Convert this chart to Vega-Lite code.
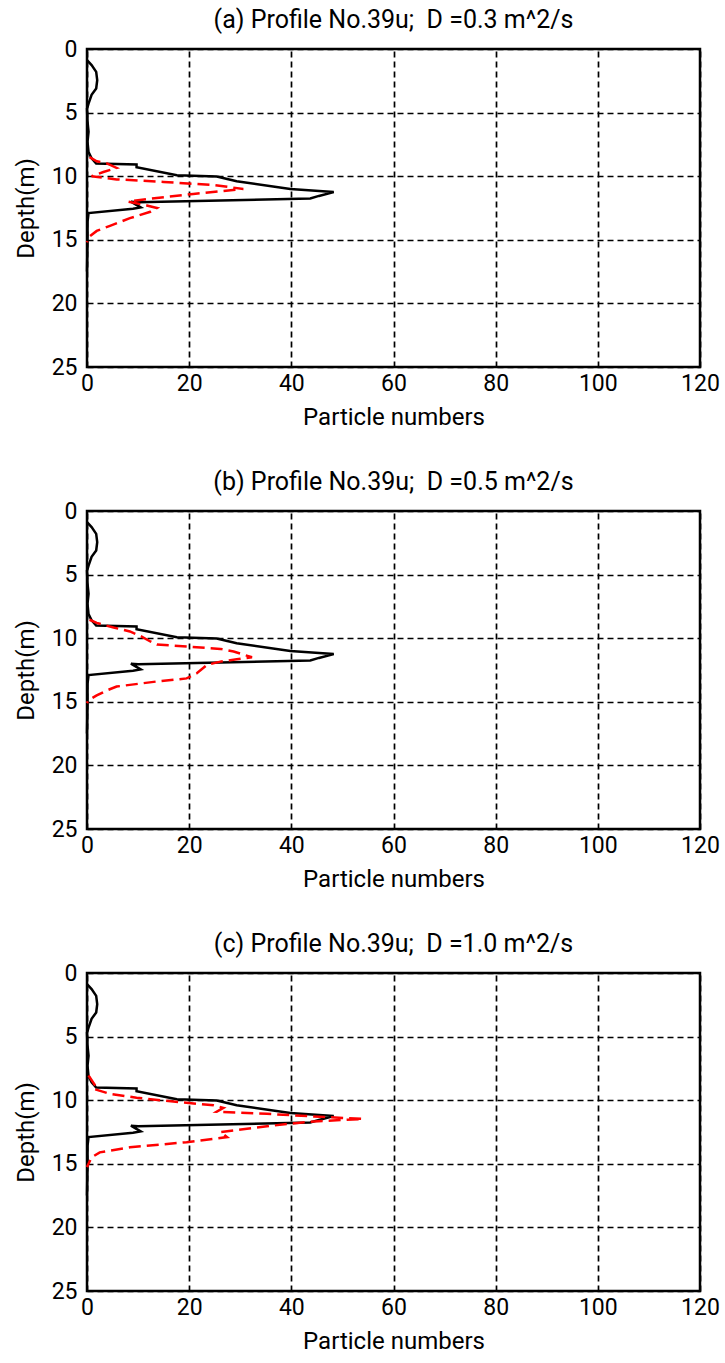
{
  "$schema": "https://vega.github.io/schema/vega-lite/v6.json",
  "padding": {"left": 12, "top": 6, "right": 2, "bottom": 3},
  "spacing": 37,
  "config": {
    "font": "Roboto",
    "view": {"stroke": "black", "strokeWidth": 2.5},
    "axis": {
      "grid": true, "gridColor": "black", "gridDash": [6, 4], "gridWidth": 1.7, "gridOpacity": 1,
      "domain": false, "ticks": false, "labelFlush": false, "labelOverlap": false,
      "labelFontSize": 23, "titleFontSize": 24, "labelColor": "black", "titleColor": "black",
      "titleFontWeight": "normal", "labelFont": "Roboto", "titleFont": "Roboto"
    },
    "axisX": {"labelPadding": 5, "titlePadding": 10},
    "axisY": {"labelPadding": 10, "titlePadding": 13},
    "title": {"fontSize": 25, "fontWeight": "normal", "color": "black", "offset": 5, "font": "Roboto"}
  },
  "datasets": {
    "obs": [
      {"i": 1, "d": 0.88, "n": 0},
      {"i": 2, "d": 1.27, "n": 0.9},
      {"i": 3, "d": 1.8, "n": 1.8},
      {"i": 4, "d": 2.45, "n": 2.0},
      {"i": 5, "d": 3.1, "n": 1.8},
      {"i": 6, "d": 3.6, "n": 0.9},
      {"i": 7, "d": 4.3, "n": 0.3},
      {"i": 8, "d": 4.7, "n": 0},
      {"i": 9, "d": 5.7, "n": 0.1},
      {"i": 10, "d": 6.5, "n": 0.3},
      {"i": 11, "d": 7.3, "n": 0.1},
      {"i": 12, "d": 8.1, "n": 0.3},
      {"i": 13, "d": 8.6, "n": 0.9},
      {"i": 14, "d": 9.0, "n": 1.8},
      {"i": 15, "d": 9.08, "n": 9.7},
      {"i": 16, "d": 9.3, "n": 9.7},
      {"i": 17, "d": 9.93, "n": 17.6},
      {"i": 18, "d": 10.02, "n": 25.4},
      {"i": 19, "d": 10.4, "n": 29.3},
      {"i": 20, "d": 11.0, "n": 39.8},
      {"i": 21, "d": 11.25, "n": 48.3},
      {"i": 22, "d": 11.55, "n": 45.4},
      {"i": 23, "d": 11.75, "n": 43.7},
      {"i": 24, "d": 12.05, "n": 10.0},
      {"i": 25, "d": 12.0, "n": 8.6},
      {"i": 26, "d": 12.45, "n": 10.5},
      {"i": 27, "d": 12.55, "n": 9.0},
      {"i": 28, "d": 12.9, "n": 0.3},
      {"i": 29, "d": 13.6, "n": 0.1},
      {"i": 30, "d": 15.2, "n": 0.1},
      {"i": 31, "d": 17.5, "n": 0}
    ],
    "sim": [
      {"p": "a", "i": 1, "d": 8.5, "n": 0.5},
      {"p": "a", "i": 2, "d": 8.83, "n": 1.9},
      {"p": "a", "i": 3, "d": 9.0, "n": 3.9},
      {"p": "a", "i": 4, "d": 9.35, "n": 5.8},
      {"p": "a", "i": 5, "d": 9.67, "n": 3.2},
      {"p": "a", "i": 6, "d": 10.0, "n": 0.9},
      {"p": "a", "i": 7, "d": 10.25, "n": 5.8},
      {"p": "a", "i": 8, "d": 10.45, "n": 15.0},
      {"p": "a", "i": 9, "d": 10.7, "n": 24.8},
      {"p": "a", "i": 10, "d": 11.0, "n": 30.6},
      {"p": "a", "i": 11, "d": 11.4, "n": 20.8},
      {"p": "a", "i": 12, "d": 11.8, "n": 11.7},
      {"p": "a", "i": 13, "d": 12.0, "n": 8.1},
      {"p": "a", "i": 14, "d": 12.3, "n": 11.7},
      {"p": "a", "i": 15, "d": 12.5, "n": 13.7},
      {"p": "a", "i": 16, "d": 12.8, "n": 12.4},
      {"p": "a", "i": 17, "d": 13.3, "n": 8.4},
      {"p": "a", "i": 18, "d": 13.9, "n": 4.5},
      {"p": "a", "i": 19, "d": 14.3, "n": 1.9},
      {"p": "a", "i": 20, "d": 14.8, "n": 0.3},
      {"p": "a", "i": 21, "d": 15.2, "n": 0},
      {"p": "b", "i": 1, "d": 8.55, "n": 0.5},
      {"p": "b", "i": 2, "d": 8.8, "n": 1.9},
      {"p": "b", "i": 3, "d": 9.16, "n": 5.2},
      {"p": "b", "i": 4, "d": 9.47, "n": 8.4},
      {"p": "b", "i": 5, "d": 9.87, "n": 10.7},
      {"p": "b", "i": 6, "d": 10.26, "n": 12.4},
      {"p": "b", "i": 7, "d": 10.5, "n": 13.7},
      {"p": "b", "i": 8, "d": 10.66, "n": 19.5},
      {"p": "b", "i": 9, "d": 10.84, "n": 26.1},
      {"p": "b", "i": 10, "d": 11.05, "n": 28.7},
      {"p": "b", "i": 11, "d": 11.5, "n": 32.3},
      {"p": "b", "i": 12, "d": 11.66, "n": 29.3},
      {"p": "b", "i": 13, "d": 11.84, "n": 26.1},
      {"p": "b", "i": 14, "d": 12.1, "n": 23.5},
      {"p": "b", "i": 15, "d": 12.76, "n": 21.5},
      {"p": "b", "i": 16, "d": 13.16, "n": 19.5},
      {"p": "b", "i": 17, "d": 13.4, "n": 13.7},
      {"p": "b", "i": 18, "d": 13.8, "n": 5.8},
      {"p": "b", "i": 19, "d": 14.1, "n": 3.9},
      {"p": "b", "i": 20, "d": 14.5, "n": 1.9},
      {"p": "b", "i": 21, "d": 14.87, "n": 0.3},
      {"p": "b", "i": 22, "d": 15.1, "n": 0},
      {"p": "c", "i": 1, "d": 8.06, "n": 0.3},
      {"p": "c", "i": 2, "d": 8.6, "n": 1.2},
      {"p": "c", "i": 3, "d": 8.85, "n": 1.6},
      {"p": "c", "i": 4, "d": 9.1, "n": 1.2},
      {"p": "c", "i": 5, "d": 9.5, "n": 4.5},
      {"p": "c", "i": 6, "d": 9.8, "n": 9.7},
      {"p": "c", "i": 7, "d": 10.16, "n": 18.2},
      {"p": "c", "i": 8, "d": 10.4, "n": 24.8},
      {"p": "c", "i": 9, "d": 10.6, "n": 26.7},
      {"p": "c", "i": 10, "d": 10.9, "n": 25.4},
      {"p": "c", "i": 11, "d": 11.07, "n": 35.2},
      {"p": "c", "i": 12, "d": 11.28, "n": 44.4},
      {"p": "c", "i": 13, "d": 11.47, "n": 54.0},
      {"p": "c", "i": 14, "d": 11.68, "n": 44.4},
      {"p": "c", "i": 15, "d": 11.86, "n": 39.2},
      {"p": "c", "i": 16, "d": 12.25, "n": 31.3},
      {"p": "c", "i": 17, "d": 12.5, "n": 26.1},
      {"p": "c", "i": 18, "d": 12.9, "n": 27.4},
      {"p": "c", "i": 19, "d": 13.3, "n": 19.5},
      {"p": "c", "i": 20, "d": 13.7, "n": 8.4},
      {"p": "c", "i": 21, "d": 14.1, "n": 2.5},
      {"p": "c", "i": 22, "d": 14.5, "n": 0.9},
      {"p": "c", "i": 23, "d": 15.0, "n": 0.3},
      {"p": "c", "i": 24, "d": 15.26, "n": 0}
    ]
  },
  "vconcat": [
    {
      "title": "(a) Profile No.39u;\u00a0 D =0.3 m^2/s",
      "width": 613, "height": 318,
      "layer": [
        {
          "data": {"name": "obs"},
          "mark": {"type": "line", "color": "black", "strokeWidth": 2.5},
          "encoding": {
            "x": {"field": "n", "type": "quantitative", "scale": {"domain": [0, 120], "nice": false}, "axis": {"values": [0, 20, 40, 60, 80, 100, 120], "title": "Particle numbers"}},
            "y": {"field": "d", "type": "quantitative", "scale": {"domain": [0, 25], "reverse": true, "nice": false}, "axis": {"values": [0, 5, 10, 15, 20, 25], "title": "Depth(m)"}},
            "order": {"field": "i"}
          }
        },
        {
          "data": {"name": "sim"},
          "transform": [{"filter": "datum.p === 'a'"}],
          "mark": {"type": "line", "color": "#ff0000", "strokeWidth": 2.5, "strokeDash": [12, 6]},
          "encoding": {
            "x": {"field": "n", "type": "quantitative"},
            "y": {"field": "d", "type": "quantitative"},
            "order": {"field": "i"}
          }
        }
      ]
    },
    {
      "title": "(b) Profile No.39u;\u00a0 D =0.5 m^2/s",
      "width": 613, "height": 318,
      "layer": [
        {
          "data": {"name": "obs"},
          "mark": {"type": "line", "color": "black", "strokeWidth": 2.5},
          "encoding": {
            "x": {"field": "n", "type": "quantitative", "scale": {"domain": [0, 120], "nice": false}, "axis": {"values": [0, 20, 40, 60, 80, 100, 120], "title": "Particle numbers"}},
            "y": {"field": "d", "type": "quantitative", "scale": {"domain": [0, 25], "reverse": true, "nice": false}, "axis": {"values": [0, 5, 10, 15, 20, 25], "title": "Depth(m)"}},
            "order": {"field": "i"}
          }
        },
        {
          "data": {"name": "sim"},
          "transform": [{"filter": "datum.p === 'b'"}],
          "mark": {"type": "line", "color": "#ff0000", "strokeWidth": 2.5, "strokeDash": [12, 6]},
          "encoding": {
            "x": {"field": "n", "type": "quantitative"},
            "y": {"field": "d", "type": "quantitative"},
            "order": {"field": "i"}
          }
        }
      ]
    },
    {
      "title": "(c) Profile No.39u;\u00a0 D =1.0 m^2/s",
      "width": 613, "height": 318,
      "layer": [
        {
          "data": {"name": "obs"},
          "mark": {"type": "line", "color": "black", "strokeWidth": 2.5},
          "encoding": {
            "x": {"field": "n", "type": "quantitative", "scale": {"domain": [0, 120], "nice": false}, "axis": {"values": [0, 20, 40, 60, 80, 100, 120], "title": "Particle numbers"}},
            "y": {"field": "d", "type": "quantitative", "scale": {"domain": [0, 25], "reverse": true, "nice": false}, "axis": {"values": [0, 5, 10, 15, 20, 25], "title": "Depth(m)"}},
            "order": {"field": "i"}
          }
        },
        {
          "data": {"name": "sim"},
          "transform": [{"filter": "datum.p === 'c'"}],
          "mark": {"type": "line", "color": "#ff0000", "strokeWidth": 2.5, "strokeDash": [12, 6]},
          "encoding": {
            "x": {"field": "n", "type": "quantitative"},
            "y": {"field": "d", "type": "quantitative"},
            "order": {"field": "i"}
          }
        }
      ]
    }
  ]
}
